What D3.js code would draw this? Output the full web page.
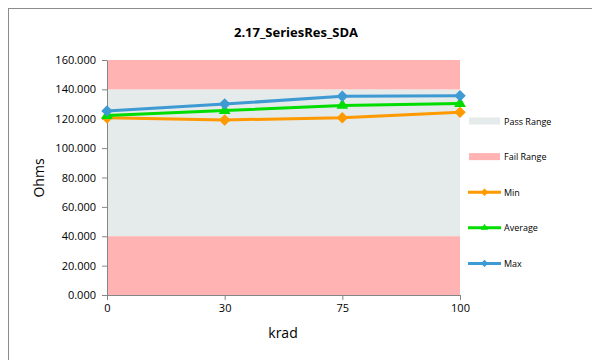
<!DOCTYPE html>
<html><head><meta charset="utf-8">
<script src="https://cdn.jsdelivr.net/npm/d3@7/dist/d3.min.js"></script>
<style>body{margin:0;background:#fff;} text{font-family:"Open Sans","Noto Sans",sans-serif;}</style>
</head><body><svg id="c" width="592" height="360"></svg>
<script>
const categories = ["0","30","75","100"];
const minVals = [120.6, 119.2, 120.7, 124.4];
const avgVals = [122.2, 125.6, 129.1, 130.3];
const maxVals = [125.3, 130.0, 135.3, 135.6];
const yTicks = [0,20,40,60,80,100,120,140,160];
const passRange = [40, 140];
const failLow = [0, 40];
const failHigh = [140, 160];

const svg = d3.select("#c");
svg.append("rect").attr("x",8.5).attr("y",8.5).attr("width",600).attr("height",360).attr("fill","#fff").attr("stroke","#8c8c8c");

const x = d3.scalePoint().domain(categories).range([107,460]);
const y = d3.scaleLinear().domain([0,160]).range([295,60]);

const plot = svg.append("g");
const bands = [[passRange,"#E5EAEA"],[failLow,"#FFB3B3"],[failHigh,"#FFB3B3"]];
plot.selectAll("rect.band").data(bands).join("rect").attr("class","band")
  .attr("x",x(categories[0])).attr("width",x(categories[3])-x(categories[0]))
  .attr("y",d=>y(d[0][1])).attr("height",d=>y(d[0][0])-y(d[0][1])).attr("fill",d=>d[1]);

const yAxis = svg.append("g").attr("transform","translate(107,0)")
  .call(d3.axisLeft(y).tickValues(yTicks).tickFormat(d3.format(".3f")).tickSize(5).tickSizeOuter(0));
const xAxis = svg.append("g").attr("transform","translate(0,295)")
  .call(d3.axisBottom(x).tickSize(5).tickSizeOuter(0));
[yAxis,xAxis].forEach(a=>{
  a.select(".domain").attr("stroke","#868686");
  a.selectAll(".tick line").attr("stroke","#868686");
  a.selectAll("text").attr("fill","#000").style("font-size","11px").style("font-family","'Open Sans',sans-serif");
});
yAxis.selectAll("text").attr("x",-11);
xAxis.selectAll("text").attr("y",9);

const diamond = d3.symbolDiamond2 || d3.symbolDiamond;
const series = [
  {name:"Min", vals:minVals, color:"#FF9900", sym:diamond},
  {name:"Average", vals:avgVals, color:"#00DD00", sym:d3.symbolTriangle},
  {name:"Max", vals:maxVals, color:"#3E9AD3", sym:diamond}
];
const line = d3.line().x((d,i)=>x(categories[i])).y(d=>y(d));
series.forEach(s=>{
  svg.append("path").datum(s.vals).attr("d",line).attr("fill","none").attr("stroke",s.color).attr("stroke-width",3);
  svg.selectAll(null).data(s.vals).join("path")
    .attr("transform",(d,i)=>`translate(${x(categories[i])},${y(d)})`)
    .attr("d",d3.symbol().type(s.sym).size(s.sym===d3.symbolTriangle?60:85)).attr("fill",s.color);
});

svg.append("text").attr("x",296).attr("y",37).attr("text-anchor","middle")
  .style("font-size","13px").style("font-weight","bold").text("2.17_SeriesRes_SDA");
svg.append("text").attr("transform","translate(44,178) rotate(-90)").attr("text-anchor","middle")
  .style("font-size","14px").text("Ohms");
svg.append("text").attr("x",283).attr("y",338).attr("text-anchor","middle")
  .style("font-size","14px").text("krad");

const legend = [
  {name:"Pass Range", type:"rect", color:"#E5EAEA"},
  {name:"Fail Range", type:"rect", color:"#FFB3B3"},
  ...series.map(s=>({name:s.name,type:"line",color:s.color,sym:s.sym}))
];
const lg = svg.selectAll("g.lg").data(legend).join("g").attr("class","lg")
  .attr("transform",(d,i)=>`translate(468,${121+i*35.6})`);
lg.each(function(d){
  const g = d3.select(this);
  if(d.type==="rect"){
    g.append("rect").attr("x",1).attr("y",-3.5).attr("width",31).attr("height",7).attr("fill",d.color);
  } else {
    g.append("line").attr("x1",0).attr("x2",33).attr("y1",0).attr("y2",0).attr("stroke",d.color).attr("stroke-width",3);
    g.append("path").attr("transform","translate(16.5,0)").attr("d",d3.symbol().type(d.sym).size(d.sym===d3.symbolTriangle?22:35)).attr("fill",d.color);
  }
  g.append("text").attr("x",36).attr("y",3.5).style("font-size","9px").text(d.name);
});
</script></body></html>
